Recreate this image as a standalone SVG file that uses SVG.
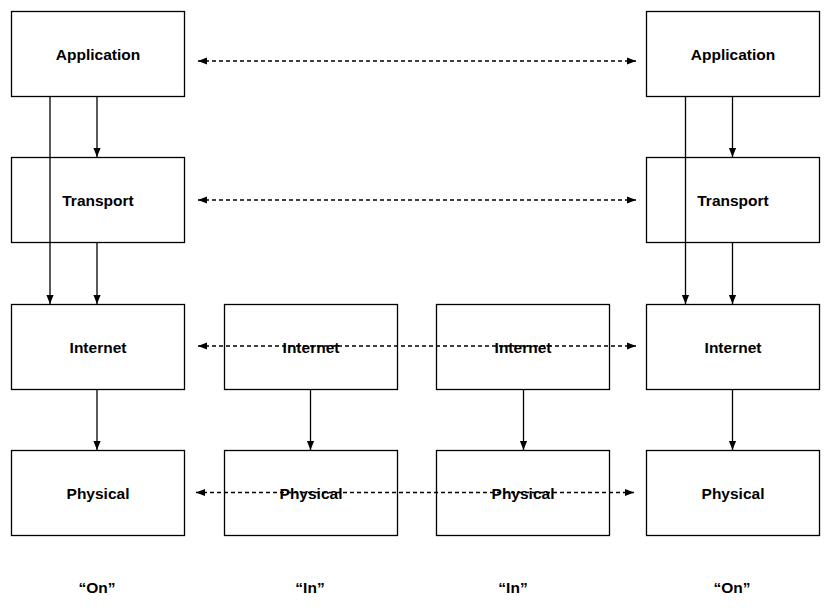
<svg xmlns="http://www.w3.org/2000/svg" width="830" height="610" viewBox="0 0 830 610">
<defs>
<style>
.box{fill:#fff;stroke:#000;stroke-width:1.3}
.lbl{font-family:"Liberation Sans",Arial,sans-serif;font-weight:bold;font-size:15.5px;text-anchor:middle;fill:#000}
.ln{stroke:#000;stroke-width:1.3;fill:none}
.dash{stroke:#000;stroke-width:1.3;fill:none;stroke-dasharray:4 3}
</style>
<marker id="ah" viewBox="0 0 10 10" refX="10" refY="5" markerWidth="9" markerHeight="9" markerUnits="userSpaceOnUse" orient="auto-start-reverse">
<path d="M0,1 L10,5 L0,9 Z" fill="#000"/>
</marker>
</defs>
<g id="nodes">
<g id="app-l"><rect class="box" x="11.5" y="11.5" width="173" height="85"/><text class="lbl" x="98" y="60">Application</text></g>
<g id="trans-l"><rect class="box" x="11.5" y="157.5" width="173" height="85"/><text class="lbl" x="98" y="206">Transport</text></g>
<g id="inet-l"><rect class="box" x="11.5" y="304.5" width="173" height="85"/><text class="lbl" x="98" y="353">Internet</text></g>
<g id="phys-l"><rect class="box" x="11.5" y="450.5" width="173" height="85"/><text class="lbl" x="98" y="499">Physical</text></g>
<g id="inet-m1"><rect class="box" x="224.5" y="304.5" width="173" height="85"/><text class="lbl" x="311" y="353">Internet</text></g>
<g id="phys-m1"><rect class="box" x="224.5" y="450.5" width="173" height="85"/><text class="lbl" x="311" y="499">Physical</text></g>
<g id="inet-m2"><rect class="box" x="436.5" y="304.5" width="173" height="85"/><text class="lbl" x="523" y="353">Internet</text></g>
<g id="phys-m2"><rect class="box" x="436.5" y="450.5" width="173" height="85"/><text class="lbl" x="523" y="499">Physical</text></g>
<g id="app-r"><rect class="box" x="646.5" y="11.5" width="173" height="85"/><text class="lbl" x="733" y="60">Application</text></g>
<g id="trans-r"><rect class="box" x="646.5" y="157.5" width="173" height="85"/><text class="lbl" x="733" y="206">Transport</text></g>
<g id="inet-r"><rect class="box" x="646.5" y="304.5" width="173" height="85"/><text class="lbl" x="733" y="353">Internet</text></g>
<g id="phys-r"><rect class="box" x="646.5" y="450.5" width="173" height="85"/><text class="lbl" x="733" y="499">Physical</text></g>
</g>
<g id="connectors">
<line class="ln" x1="97" y1="96.5" x2="97" y2="157" marker-end="url(#ah)"/>
<line class="ln" x1="50" y1="96.5" x2="50" y2="304" marker-end="url(#ah)"/>
<line class="ln" x1="97" y1="242.5" x2="97" y2="304" marker-end="url(#ah)"/>
<line class="ln" x1="97" y1="389.5" x2="97" y2="450" marker-end="url(#ah)"/>
<line class="ln" x1="310.5" y1="389.5" x2="310.5" y2="450" marker-end="url(#ah)"/>
<line class="ln" x1="523.5" y1="389.5" x2="523.5" y2="450" marker-end="url(#ah)"/>
<line class="ln" x1="732.5" y1="96.5" x2="732.5" y2="157" marker-end="url(#ah)"/>
<line class="ln" x1="685.5" y1="96.5" x2="685.5" y2="304" marker-end="url(#ah)"/>
<line class="ln" x1="732.5" y1="242.5" x2="732.5" y2="304" marker-end="url(#ah)"/>
<line class="ln" x1="732.5" y1="389.5" x2="732.5" y2="450" marker-end="url(#ah)"/>
<line class="dash" x1="198" y1="61" x2="636" y2="61" marker-start="url(#ah)" marker-end="url(#ah)"/>
<line class="dash" x1="198" y1="200" x2="636" y2="200" marker-start="url(#ah)" marker-end="url(#ah)"/>
<line class="dash" x1="198" y1="346" x2="636" y2="346" marker-start="url(#ah)" marker-end="url(#ah)"/>
<line class="dash" x1="196" y1="492.5" x2="634" y2="492.5" marker-start="url(#ah)" marker-end="url(#ah)"/>
</g>
<g id="labels">
<text class="lbl" x="97" y="593" font-size="16">“On”</text>
<text class="lbl" x="310" y="593" font-size="16">“In”</text>
<text class="lbl" x="513" y="593" font-size="16">“In”</text>
<text class="lbl" x="732" y="593" font-size="16">“On”</text>
</g>
</svg>
